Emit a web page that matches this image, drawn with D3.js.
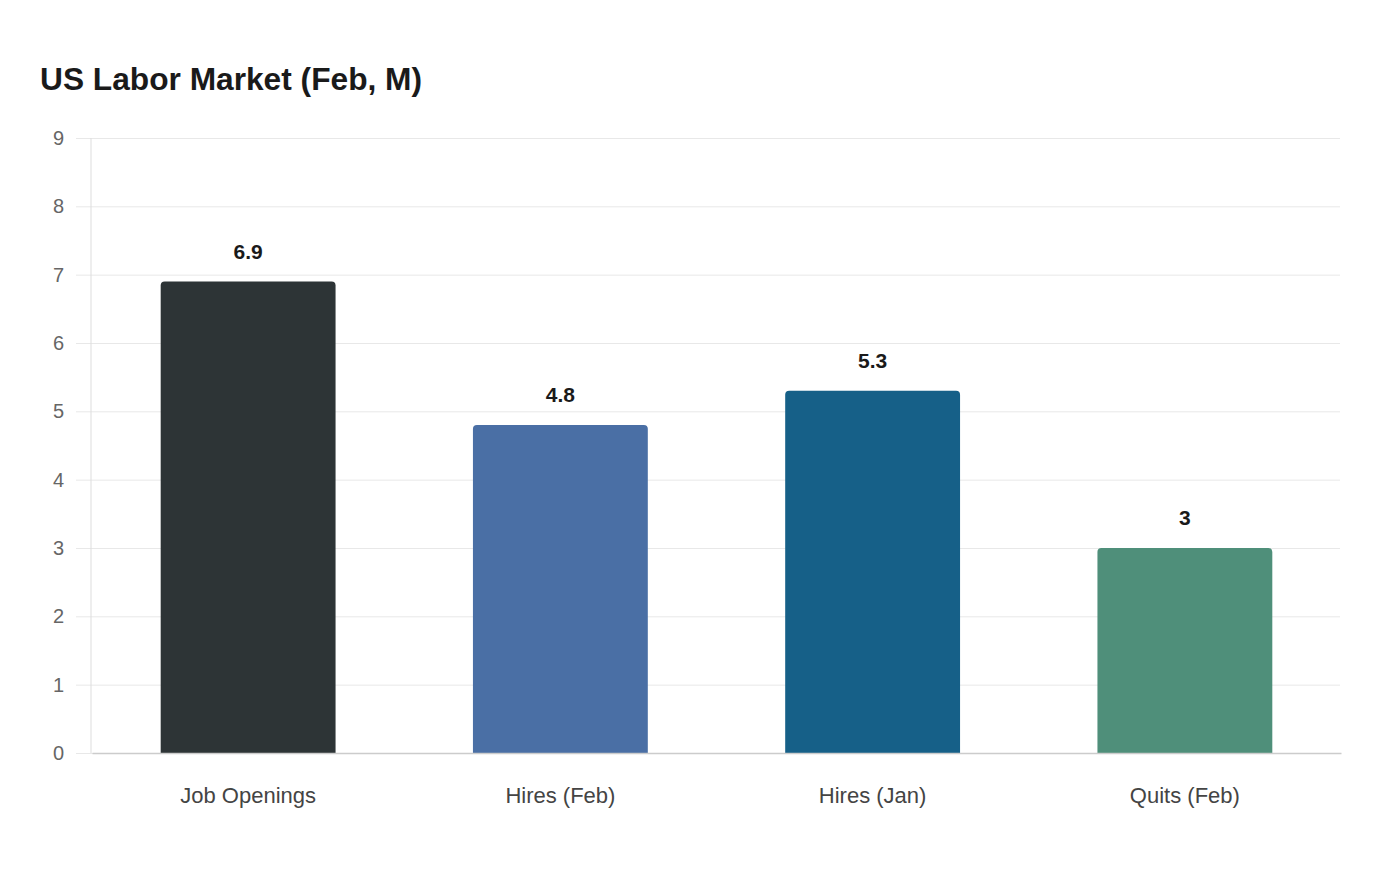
<!DOCTYPE html>
<html><head><meta charset="utf-8">
<script src="https://cdn.jsdelivr.net/npm/d3@7"></script>
<style>body{margin:0;background:#fff;font-family:"Liberation Sans",Arial,sans-serif;}</style>
</head><body>
<svg id="c" width="1400" height="880"></svg>
<script>
const categories = ["Job Openings", "Hires (Feb)", "Hires (Jan)", "Quits (Feb)"];
const values = [6.9, 4.8, 5.3, 3];
const colors = ["#2d3436", "#4a6fa5", "#166088", "#4f8f7a"];
const yTicks = [0,1,2,3,4,5,6,7,8,9];
const title = "US Labor Market (Feb, M)";

const svg = d3.select("#c");
const m = {l:91, r:60, t:138, b:127};
const W = 1400, H = 880;
const x = d3.scaleBand().domain(categories).range([m.l+1, W-m.r+1]).paddingInner(0.44).paddingOuter(0.22);
const y = d3.scaleLinear().domain([0,9]).range([H-m.b, m.t]);

svg.append("text").attr("x",40).attr("y",90).text(title)
  .attr("font-size",31.7).attr("font-weight","bold").attr("fill","#1a1a1a");

// grid
const gy = svg.append("g").attr("transform",`translate(${m.l},0)`)
  .call(d3.axisLeft(y).tickValues(yTicks).tickSize(-(W-m.r-m.l)).tickPadding(27));
gy.select(".domain").remove();
gy.selectAll(".tick line").attr("stroke","#e8e8e8").attr("x1",-15);
gy.selectAll(".tick text").attr("font-size",20).attr("fill","#666").attr("font-family","Liberation Sans, Arial, sans-serif");

svg.append("line").attr("x1",m.l).attr("x2",m.l).attr("y1",m.t).attr("y2",H-m.b)
  .attr("stroke","#ddd").attr("stroke-width",1);

const r = 4;
svg.selectAll("path.bar").data(values).enter().append("path")
  .attr("fill",(d,i)=>colors[i])
  .attr("d",(d,i)=>{
    const x0 = x(categories[i]), w = x.bandwidth(), y0 = y(d), y1 = y(0);
    return `M${x0},${y1}V${y0+r}Q${x0},${y0} ${x0+r},${y0}H${x0+w-r}Q${x0+w},${y0} ${x0+w},${y0+r}V${y1}Z`;
  });

svg.selectAll("text.val").data(values).enter().append("text")
  .attr("x",(d,i)=>x(categories[i])+x.bandwidth()/2)
  .attr("y",d=>y(d)-23)
  .attr("text-anchor","middle").attr("font-size",21).attr("font-weight","bold").attr("fill","#1a1a1a")
  .text(d=>d);

const gx = svg.append("g").attr("transform",`translate(0,${H-m.b})`)
  .call(d3.axisBottom(x).tickSize(0).tickPadding(34));
gx.select(".domain").attr("stroke","#ccc").attr("stroke-width",1.5);
gx.selectAll(".tick text").attr("font-size",22).attr("fill","#444").attr("font-family","Liberation Sans, Arial, sans-serif");
</script>
</body></html>
